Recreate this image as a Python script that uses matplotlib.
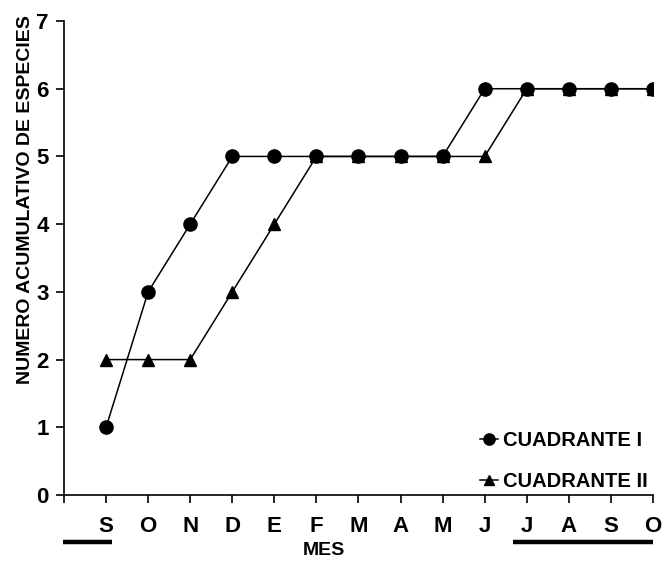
import numpy as np
import matplotlib
matplotlib.use("Agg")
import matplotlib.pyplot as plt
import matplotlib.transforms as mtransforms

# monthly cumulative species counts
months = ["S", "O", "N", "D", "E", "F", "M", "A", "M", "J", "J", "A", "S", "O"]
cuadrante_1 = [1, 3, 4, 5, 5, 5, 5, 5, 5, 6, 6, 6, 6, 6]
cuadrante_2 = [2, 2, 2, 3, 4, 5, 5, 5, 5, 5, 6, 6, 6, 6]

plt.rcParams['font.family'] = ['Liberation Sans', 'DejaVu Sans']
plt.rcParams['font.weight'] = 'bold'

fig = plt.figure(figsize=(6.64, 5.68), dpi=100)
ax = fig.add_axes([0.0964, 0.1285, 0.887, 0.8345])

x = np.arange(1, len(months) + 1)
ax.plot(x, cuadrante_1, color='black', lw=1.1, marker='o', ms=9.5, label='CUADRANTE I')
ax.plot(x, cuadrante_2, color='black', lw=1.1, marker='^', ms=8, label='CUADRANTE II')

ax.set_xlim(0, len(months))
ax.set_ylim(0, 7)
ax.set_xticks(np.arange(0, len(months) + 1))
ax.set_xticklabels([''] + months)
ax.set_yticks(range(0, 8))

for side in ['top', 'right']:
    ax.spines[side].set_visible(False)
for side in ['left', 'bottom']:
    ax.spines[side].set_linewidth(1.2)

ax.tick_params(axis='both', direction='out', length=6, width=1.2, labelsize=16)
ax.tick_params(axis='x', pad=9)
ax.tick_params(axis='y', pad=5)
for lab in ax.get_xticklabels() + ax.get_yticklabels():
    lab.set_fontweight('heavy')

fig.text(0.038, 0.648, 'NUMERO ACUMULATIVO DE ESPECIES', rotation=90,
         ha='center', va='center', fontsize=14, fontweight='heavy')
fig.text(0.488, 0.031, 'MES', ha='center', va='center', fontsize=14, fontweight='heavy')

# year underlines below the month labels
trans = mtransforms.blended_transform_factory(ax.transData, fig.transFigure)
for x0, x1 in [(-0.02, 1.14), (10.67, 14.0)]:
    ax.plot([x0, x1], [0.0458, 0.0458], transform=trans, color='black', lw=3.2,
            clip_on=False, solid_capstyle='butt')

leg = ax.legend(loc='lower right', bbox_to_anchor=(1.022, -0.03), frameon=False,
                handlelength=0.9, handletextpad=0.25, labelspacing=1.1, markerscale=0.85,
                prop={'size': 14.5, 'weight': 'heavy'})

fig.savefig('out.png', dpi=100)
